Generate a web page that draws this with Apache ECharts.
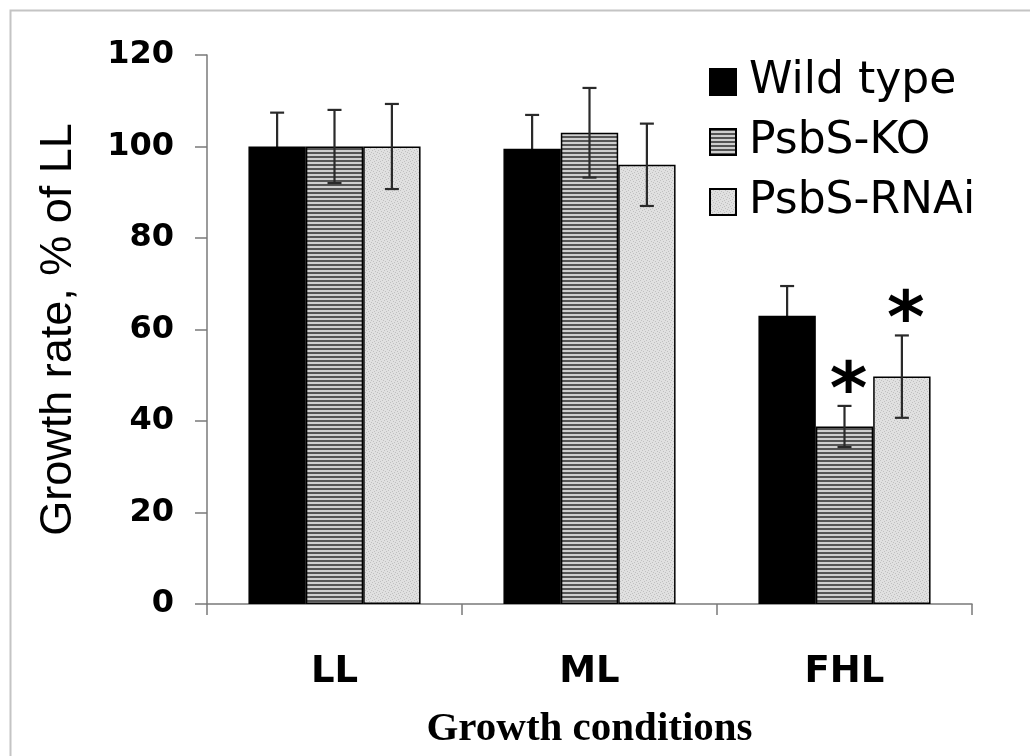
<!DOCTYPE html>
<html>
<head>
<meta charset="utf-8">
<script src="https://cdn.jsdelivr.net/npm/echarts@6/dist/echarts.min.js"></script>
<style>
html,body{margin:0;padding:0;background:#fff;}
#chart{width:1030px;height:756px;}
</style>
</head>
<body>
<div id="chart"></div>
<script>
// ---- data ----
const categories = ['LL', 'ML', 'FHL'];
const yTicks = [0, 20, 40, 60, 80, 100, 120];
const seriesNames = ['Wild type', 'PsbS-KO', 'PsbS-RNAi'];
const wildType = [100, 99.5, 63];
const wildTypeErr = [7.4, 7.4, 6.5];
const psbsKO = [100, 103, 38.8];
const psbsKOErr = [8, 9.8, 4.5];
const psbsRNAi = [100, 96, 49.7];
const psbsRNAiErr = [9.3, 9, 9];
const wildTypeSig = [0, 0, 0];
const psbsKOSig = [0, 0, 1];
const psbsRNAiSig = [0, 0, 1];

// ---- patterns ----
function stripePattern() {
  const c = document.createElement('canvas');
  c.width = 4; c.height = 4;
  const g = c.getContext('2d');
  g.fillStyle = '#cfcfcf'; g.fillRect(0, 0, 4, 4);
  g.fillStyle = '#555555'; g.fillRect(0, 0, 4, 2);
  return c;
}
function speckPattern() {
  const c = document.createElement('canvas');
  c.width = 6; c.height = 6;
  const g = c.getContext('2d');
  g.fillStyle = '#e0e0e0'; g.fillRect(0, 0, 6, 6);
  g.fillStyle = '#c0c0c0';
  const pts = [[0,0],[3,1],[1,3],[4,4],[5,2],[2,5]];
  pts.forEach(p => g.fillRect(p[0], p[1], 1, 1));
  return c;
}

const CAT_GAP = 0.325;
const valueSets = [wildType, psbsKO, psbsRNAi];
const errSets = [wildTypeErr, psbsKOErr, psbsRNAiErr];
const sigSets = [wildTypeSig, psbsKOSig, psbsRNAiSig];
const fills = ['#000000', { image: stripePattern(), repeat: 'repeat' }, { image: speckPattern(), repeat: 'repeat' }];

function errRender(k) {
  return function (params, api) {
    const cat = api.value(0), v = api.value(1), e = api.value(2), sig = api.value(3);
    const bandW = api.size([1, 0])[0];
    const barW = bandW * (1 - CAT_GAP) / 3;
    const x = api.coord([cat, v])[0] + (k - 1) * barW;
    const yt = api.coord([cat, v + e])[1];
    const yb = api.coord([cat, v - e])[1];
    const cap = 7;
    const st = { stroke: '#2a2a2a', lineWidth: 2.2 };
    const children = [
      { type: 'line', shape: { x1: x, y1: yt, x2: x, y2: yb }, style: st },
      { type: 'line', shape: { x1: x - cap, y1: yt, x2: x + cap, y2: yt }, style: st },
      { type: 'line', shape: { x1: x - cap, y1: yb, x2: x + cap, y2: yb }, style: st }
    ];
    if (sig) {
      children.push({ type: 'text', style: { text: '*', x: x + 4, y: yt - 12, font: 'bold 72px "DejaVu Sans"', fill: '#000', align: 'center', verticalAlign: 'middle' } });
    }
    return { type: 'group', children: children };
  };
}

const series = [];
valueSets.forEach((vals, k) => {
  series.push({
    name: seriesNames[k], type: 'bar', data: vals,
    barGap: '0%', barCategoryGap: (CAT_GAP * 100) + '%',
    itemStyle: { color: fills[k], borderColor: '#000', borderWidth: 1.5 },
    z: 2
  });
});
valueSets.forEach((vals, k) => {
  series.push({
    name: 'err' + k, type: 'custom', renderItem: errRender(k), z: k === 0 ? 1 : 5,
    encode: { x: 0, y: 1 },
    data: categories.map((c, i) => [i, vals[i], errSets[k][i], sigSets[k][i]])
  });
});

const chart = echarts.init(document.getElementById('chart'));
chart.setOption({
  animation: false,
  backgroundColor: '#fff',
  grid: { left: 207, right: 58, top: 55, bottom: 152 },
  legend: {
    data: seriesNames, orient: 'vertical', left: 704, top: 54, icon: 'rect',
    itemWidth: 26, itemHeight: 26, itemGap: 14,
    textStyle: { fontFamily: 'DejaVu Sans', fontSize: 44, color: '#000', lineHeight: 46, padding: [0, 0, 0, 8] }
  },
  xAxis: {
    type: 'category', data: categories,
    name: 'Growth conditions', nameLocation: 'middle', nameGap: 105,
    nameTextStyle: { fontFamily: 'Liberation Serif', fontWeight: 'bold', fontSize: 41, color: '#000' },
    axisLine: { lineStyle: { color: '#7a7a7a', width: 1.5 } },
    axisTick: { show: true, length: 11, lineStyle: { color: '#7a7a7a', width: 1.5 } },
    axisLabel: { fontFamily: 'DejaVu Sans', fontWeight: 'bold', fontSize: 37, color: '#000', margin: 50 }
  },
  yAxis: {
    type: 'value', min: 0, max: 120, interval: 20,
    name: 'Growth rate, % of LL', nameLocation: 'middle', nameGap: 126,
    nameTextStyle: { fontFamily: 'Liberation Sans', fontSize: 45, color: '#000' },
    axisLine: { show: true, lineStyle: { color: '#7a7a7a', width: 1.5 } },
    axisTick: { show: true, length: 12, lineStyle: { color: '#7a7a7a', width: 1.5 } },
    splitLine: { show: false },
    axisLabel: {
      fontFamily: 'DejaVu Sans', fontWeight: 'bold', fontSize: 32, color: '#000', margin: 33,
      formatter: v => yTicks.indexOf(v) >= 0 ? String(v) : ''
    }
  },
  graphic: [{
    type: 'rect', left: 8, top: 8, z: 100, silent: true,
    shape: { width: 1040, height: 770 },
    style: { fill: 'none', stroke: '#c4c4c4', lineWidth: 2 }
  }],
  series: series
});
</script>
</body>
</html>
